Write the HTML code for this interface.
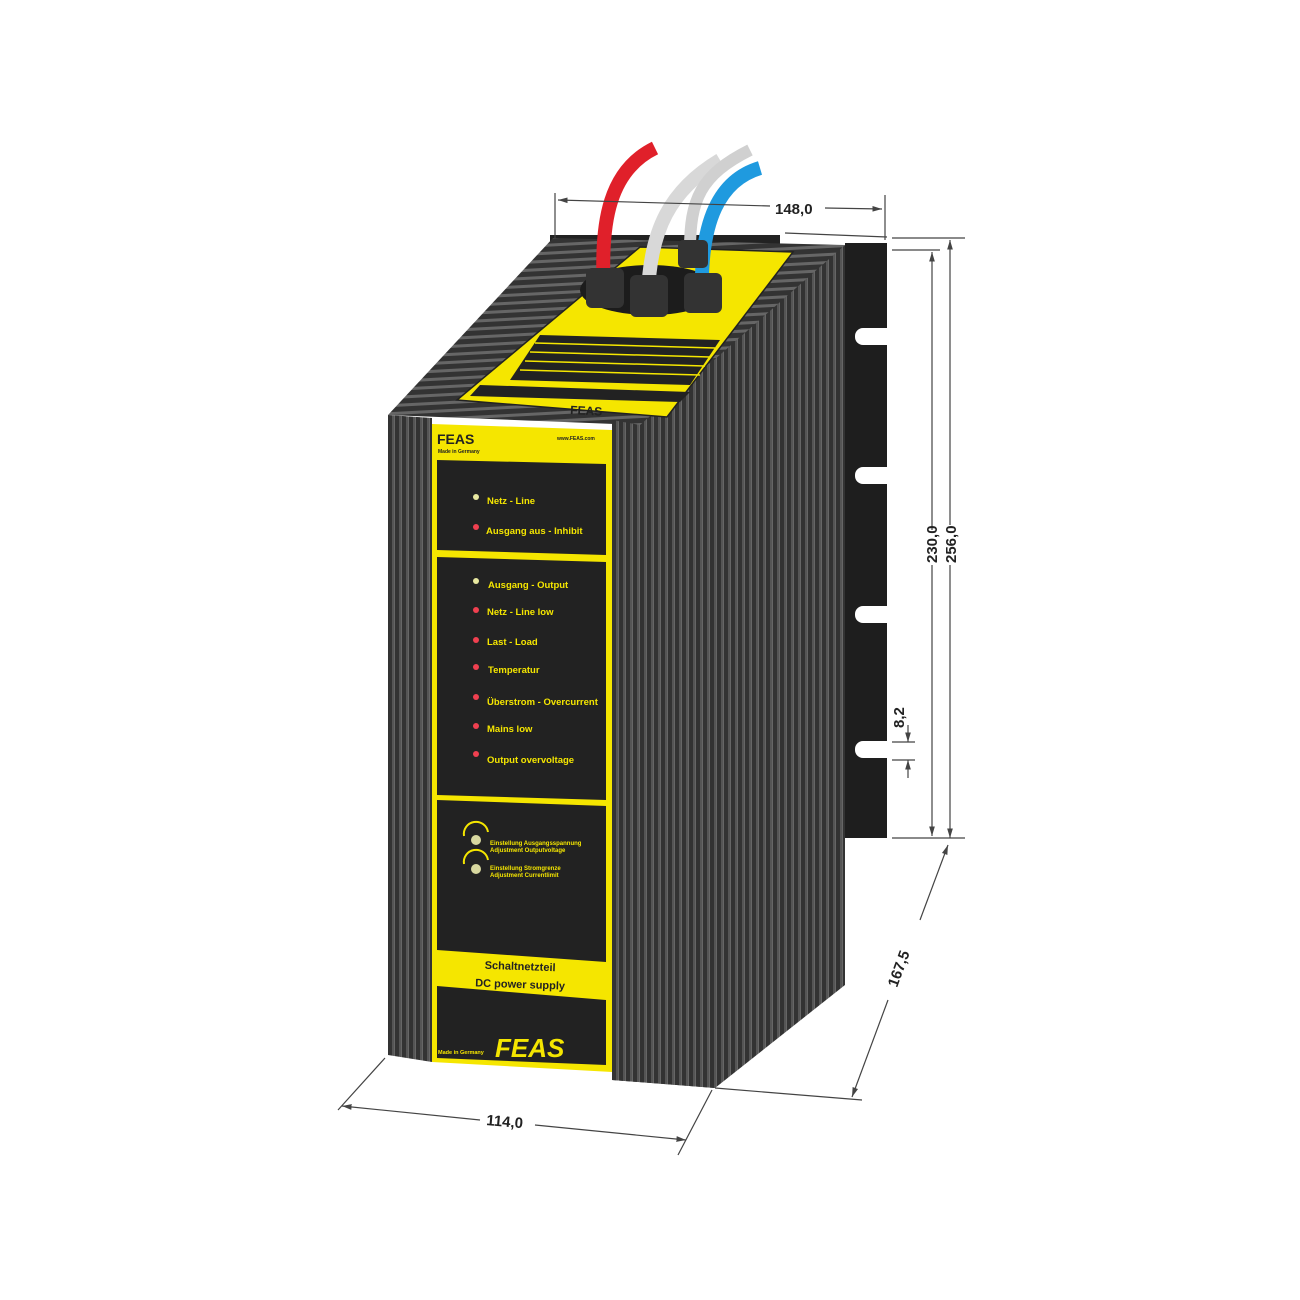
<!DOCTYPE html>
<html><head><meta charset="utf-8"><style>
html,body{margin:0;padding:0;background:#fff}
svg{display:block}
text{font-family:"Liberation Sans",sans-serif;font-weight:bold}
</style></head><body>
<svg width="1300" height="1300" viewBox="0 0 1300 1300" xmlns="http://www.w3.org/2000/svg">
<defs>
<pattern id="vf" width="7" height="10" patternUnits="userSpaceOnUse">
<rect width="7" height="10" fill="#333"/><rect x="0" width="2" height="10" fill="#555"/><rect x="2" width="1" height="10" fill="#666"/>
</pattern>
<pattern id="hf" width="10" height="8" patternUnits="userSpaceOnUse" patternTransform="rotate(-3)">
<rect width="10" height="8" fill="#333"/><rect y="0" width="10" height="3" fill="#666"/>
</pattern>
<marker id="ar" viewBox="0 0 10 10" refX="10" refY="5" markerWidth="8" markerHeight="8" orient="auto-start-reverse"><path d="M0 2 L10 5 L0 8 Z" fill="#444"/></marker>
</defs>

<path d="M845 243 H887 V838 H845 Z" fill="#1e1e1e"/>
<g fill="#fff">
<rect x="855" y="328" width="40" height="17" rx="8"/>
<rect x="855" y="467" width="40" height="17" rx="8"/>
<rect x="855" y="606" width="40" height="17" rx="8"/>
<rect x="855" y="741" width="40" height="17" rx="8"/>
</g>
<path d="M550 235 H780 V250 H550 Z" fill="#222"/>

<path d="M612 420 L845 245 L845 985 L715 1088 L612 1080 Z" fill="url(#vf)"/>
<path d="M388 415 L553 238 L845 245 L640 425 Z" fill="url(#hf)"/>
<path d="M640 247 L793 252 L667 417 L457 400 Z" fill="#f5e600" stroke="#222" stroke-width="1.5"/>
<ellipse cx="650" cy="290" rx="70" ry="25" fill="#1c1c1c"/>
<g fill="#222">
<path d="M540 335 L720 340 L690 385 L510 380 Z"/>
<path d="M480 385 L690 392 L680 402 L470 396 Z"/>
</g>
<g stroke="#f5e600" stroke-width="1.5" fill="none">
<path d="M535 343 L715 348 M530 352 L710 357 M525 361 L705 366 M520 370 L700 375"/>
</g>
<text x="570" y="414" font-size="12" fill="#222" transform="rotate(3 570 414)">FEAS</text>
<path d="M604 290 C600 220 610 170 655 148" stroke="#e0202a" stroke-width="14" fill="none"/>
<path d="M648 295 C650 230 670 190 720 160" stroke="#d8d8d8" stroke-width="14" fill="none"/>
<path d="M702 295 C700 220 720 180 760 168" stroke="#1f9adf" stroke-width="14" fill="none"/>
<path d="M690 250 C690 200 700 175 750 150" stroke="#d0d0d0" stroke-width="12" fill="none"/>
<g fill="#333">
<rect x="586" y="268" width="38" height="40" rx="6"/>
<rect x="630" y="275" width="38" height="42" rx="6"/>
<rect x="684" y="273" width="38" height="40" rx="6"/>
<rect x="678" y="240" width="30" height="28" rx="5"/>
</g>

<path d="M388 415 L432 418 L432 1062 L388 1055 Z" fill="url(#vf)"/>
<path d="M612 420 L640 425 L715 428 L715 1088 L612 1080 Z" fill="url(#vf)"/>
<path d="M432 424 L612 430 L612 1072 L432 1062 Z" fill="#f5e600"/>
<text x="437" y="444" font-size="14" fill="#222">FEAS</text>
<text x="438" y="453" font-size="5" fill="#222">Made in Germany</text>
<text x="557" y="440" font-size="5" fill="#222">www.FEAS.com</text>
<g fill="#222">
<path d="M437 460 L606 464 L606 555 L437 550 Z"/>
<path d="M437 557 L606 562 L606 800 L437 795 Z"/>
<path d="M437 800 L606 806 L606 962 L437 950 Z"/>
<path d="M437 986 L606 1000 L606 1065 L437 1058 Z"/>
</g>
<g font-size="9.5" fill="#f5e600">
<text x="487" y="504">Netz  -  Line</text>
<text x="486" y="534">Ausgang aus  -  Inhibit</text>
<text x="488" y="588">Ausgang  -  Output</text>
<text x="487" y="615">Netz  -  Line low</text>
<text x="487" y="645">Last  -  Load</text>
<text x="488" y="673">Temperatur</text>
<text x="487" y="705">Überstrom - Overcurrent</text>
<text x="487" y="732">Mains low</text>
<text x="487" y="763">Output overvoltage</text>
</g>
<g font-size="6" fill="#f5e600">
<text x="490" y="845">Einstellung Ausgangsspannung</text>
<text x="490" y="852">Adjustment Outputvoltage</text>
<text x="490" y="870">Einstellung Stromgrenze</text>
<text x="490" y="877">Adjustment Currentlimit</text>
</g>
<g>
<circle cx="476" cy="497" r="3" fill="#e8e8a0"/>
<circle cx="476" cy="527" r="3" fill="#f04050"/>
<circle cx="476" cy="581" r="3" fill="#e8e8a0"/>
<g fill="#f04050"><circle cx="476" cy="610" r="3"/><circle cx="476" cy="640" r="3"/><circle cx="476" cy="667" r="3"/><circle cx="476" cy="697" r="3"/><circle cx="476" cy="726" r="3"/><circle cx="476" cy="754" r="3"/></g>
<circle cx="476" cy="840" r="5" fill="#d8d8a0"/>
<circle cx="476" cy="869" r="5" fill="#d8d8a0"/>
<path d="M464 836 A12 12 0 0 1 488 832 M464 864 A12 12 0 0 1 488 860" stroke="#f5e600" stroke-width="2" fill="none"/>
</g>
<text x="520" y="970" font-size="11" fill="#222" text-anchor="middle" transform="rotate(2 520 970)">Schaltnetzteil</text>
<text x="520" y="988" font-size="11" fill="#222" text-anchor="middle" transform="rotate(2 520 988)">DC power supply</text>
<text x="495" y="1057" font-size="26" fill="#f5e600" font-style="italic">FEAS</text>
<text x="438" y="1054" font-size="5.5" fill="#f5e600">Made in Germany</text>

<g stroke="#444" stroke-width="1.2" fill="none">
<path d="M555 193 V238 M885 195 V240"/>
<path d="M785 233 L887 237 M892 238 H965 M892 250 H940 M892 838 H965"/>
<path d="M892 742 H915 M892 760 H915"/>
<path d="M715 1088 L862 1100"/>
<path d="M385 1058 L338 1110 M712 1090 L678 1155"/>
</g>
<g stroke="#444" stroke-width="1.2" fill="none">
<path d="M770 206 L558 200" marker-end="url(#ar)"/>
<path d="M825 208 L882 209" marker-end="url(#ar)"/>
<path d="M932 530 V252" marker-end="url(#ar)"/>
<path d="M932 565 V836" marker-end="url(#ar)"/>
<path d="M950 525 V240" marker-end="url(#ar)"/>
<path d="M950 565 V838" marker-end="url(#ar)"/>
<path d="M908 725 V742" marker-end="url(#ar)"/>
<path d="M908 778 V760" marker-end="url(#ar)"/>
<path d="M920 920 L948 845" marker-end="url(#ar)"/>
<path d="M888 1000 L852 1097" marker-end="url(#ar)"/>
<path d="M480 1120 L342 1106" marker-end="url(#ar)"/>
<path d="M535 1125 L686 1140" marker-end="url(#ar)"/>
</g>
<g font-size="15" fill="#222">
<text x="775" y="214">148,0</text>
<text transform="translate(937 563) rotate(-90)">230,0</text>
<text transform="translate(956 563) rotate(-90)">256,0</text>
<text transform="translate(904 728) rotate(-90)">8,2</text>
<text transform="translate(897 988) rotate(-70)">167,5</text>
<text transform="translate(486 1125) rotate(5)">114,0</text>
</g>
</svg>
</body></html>
